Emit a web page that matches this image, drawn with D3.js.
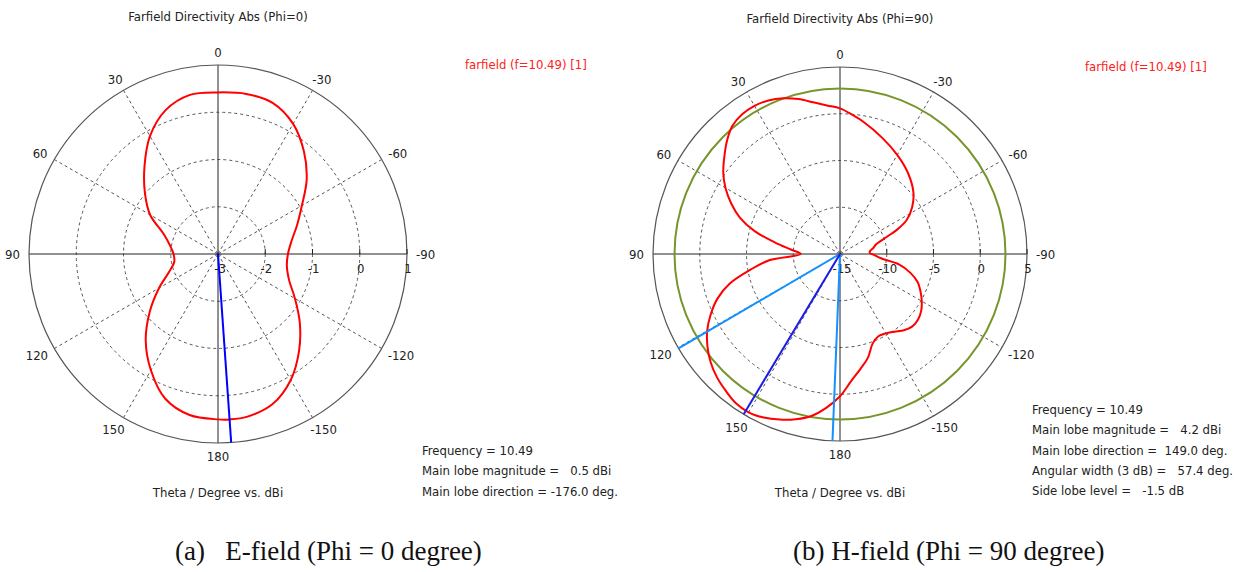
<!DOCTYPE html>
<html><head><meta charset="utf-8">
<script src="https://cdn.jsdelivr.net/npm/d3@7"></script>
<style>
html,body{margin:0;padding:0;background:#fff;}
svg text{font-family:'DejaVu Sans Condensed','DejaVu Sans',sans-serif;white-space:pre;}
svg text.cap{font-family:'Liberation Serif','Times New Roman',serif;}
</style></head>
<body><svg id="c" width="1243" height="572"></svg>
<script>
// ---------- data ----------
const angleTicks = [0, 30, 60, 90, 120, 150, 180, -150, -120, -90, -60, -30];
const angleLabels = ["0","30","60","90","120","150","180","-150","-120","-90","-60","-30"];

// Panel (a): Phi = 0
const ticksE = [-3, -2, -1, 0, 1];
const thetaE = [180,170,160,150,140,130,120,110,100,90,80,70,60,50,40,30,20,10,0,-10,-20,-30,-40,-50,-60,-70,-80,-90,-100,-110,-120,-130,-140,-150,-160,-170,-176];
const dirE   = [0.50,0.46,0.26,-0.16,-0.62,-1.12,-1.56,-1.90,-2.06,-2.06,-1.97,-1.78,-1.34,-0.98,-0.58,-0.12,0.24,0.42,0.42,0.44,0.40,0.18,-0.17,-0.55,-0.95,-1.22,-1.42,-1.52,-1.52,-1.40,-1.12,-0.74,-0.33,0.08,0.38,0.50,0.51];
const mainDirE = [-176];

// Panel (b): Phi = 90
const ticksH = [-15, -10, -5, 0, 5];
const thetaH = [180,175,170,165,160,155,150,145,140,135,130,125,120,115,110,105,100,95,90,85,80,75,70,65,60,55,50,45,40,35,30,25,20,15,10,5,0,-5,-10,-20,-30,-40,-50,-57,-63,-67,-70,-75,-80,-85,-88,-92,-96,-100,-105,-110,-115,-120,-125,-130,-135,-140,-145,-150,-155,-160,-165,-170,-175];
const dirH   = [0.22,1.5,2.6,3.3,3.85,4.3,4.55,4.45,4.05,3.62,3.05,2.3,1.4,0.25,-1.05,-2.8,-5.25,-7.4,-10.8,-9.8,-7.95,-5.55,-3.6,-2.15,-0.85,0.24,1.15,2.1,2.9,3.24,3.3,3.12,2.72,2.15,1.47,0.95,0.58,-0.05,-0.64,-1.78,-2.76,-3.69,-4.75,-5.8,-7.0,-8.4,-9.7,-11.0,-11.4,-11.8,-11.8,-11.3,-10.6,-8.6,-7.2,-6.15,-5.5,-4.9,-4.4,-4.1,-4.05,-4.35,-4.85,-5.2,-5.3,-4.8,-3.5,-2.5,-1.35];
const mainDirH = [149.0];
const beamEdgesH = [120.3, 177.7];
const sideLobeLevelH = [2.7];

const titles = ["Farfield Directivity Abs (Phi=0)", "Farfield Directivity Abs (Phi=90)"];
const legendText = "farfield (f=10.49) [1]";
const xTitle = "Theta / Degree vs. dBi";
const infoE = ["Frequency = 10.49", "Main lobe magnitude =   0.5 dBi", "Main lobe direction = -176.0 deg."];
const infoH = ["Frequency = 10.49", "Main lobe magnitude =   4.2 dBi", "Main lobe direction =  149.0 deg.", "Angular width (3 dB) =   57.4 deg.", "Side lobe level =   -1.5 dB"];
const captions = ["(a)   E-field (Phi = 0 degree)", "(b) H-field (Phi = 90 degree)"];

// ---------- drawing ----------
const svg = d3.select("#c");
svg.append("rect").attr("width",1243).attr("height",572).attr("fill","#fff");
const rad = t => -t * Math.PI / 180;
const FS = 13;

function panel(o) {
  const g = svg.append("g").attr("transform", `translate(${o.cx},${o.cy})`);
  const R = o.R;
  const r = d3.scaleLinear().domain([o.ticks[0], o.ticks[o.ticks.length-1]]).range([0, R]).clamp(true);

  // dashed rings
  g.selectAll(".ring").data(o.ticks.slice(1, -1)).join("circle")
    .attr("r", d => r(d)).attr("fill","none").attr("stroke","#555")
    .attr("stroke-width",1).attr("stroke-dasharray","3,3");
  g.append("circle").attr("r",3).attr("fill","none").attr("stroke","#777").attr("stroke-dasharray","1,1");
  // dashed spokes
  g.selectAll(".spoke").data(angleTicks.filter(a => a % 90 !== 0)).join("line")
    .attr("x1",0).attr("y1",0)
    .attr("x2", a => R*Math.sin(rad(a))).attr("y2", a => -R*Math.cos(rad(a)))
    .attr("stroke","#555").attr("stroke-width",1).attr("stroke-dasharray","3,3");
  // solid axes
  g.append("line").attr("x1",-R).attr("x2",R).attr("y1",0).attr("y2",0).attr("stroke","#222").attr("stroke-width",1);
  g.append("line").attr("y1",-R).attr("y2",R).attr("x1",0).attr("x2",0).attr("stroke","#222").attr("stroke-width",1);
  // outer circle
  g.append("circle").attr("r",R).attr("fill","none").attr("stroke","#555").attr("stroke-width",1.2);
  // radial ticks
  g.selectAll(".rt").data(o.ticks.slice(1)).join("line")
    .attr("x1", d => r(d)).attr("x2", d => r(d)).attr("y1",0).attr("y2",-5)
    .attr("stroke","#222");
  g.selectAll(".rl").data(o.ticks).join("text")
    .attr("x", (d,i) => r(d) + (i===0 ? 2 : 1)).attr("y", 19)
    .attr("text-anchor","middle").attr("font-size",FS).attr("fill","#222").text(d => d);
  // angle labels
  g.selectAll(".al").data(angleTicks).join("text")
    .attr("font-size",FS).attr("fill","#222").attr("text-anchor","middle")
    .text((d,i) => angleLabels[i])
    .each(function(a) {
      const w = this.getComputedTextLength();
      const dx = Math.sin(rad(a)), dy = -Math.cos(rad(a));
      const x = dx*(R+9) + dx*w/2, y = dy*(R+9) + dy*4;
      d3.select(this).attr("x", x).attr("y", y + 5);
    });

  // side lobe circle
  if (o.sll) g.selectAll(".sll").data(o.sll).join("circle")
    .attr("r", d => r(d)).attr("fill","none").attr("stroke","#76962c").attr("stroke-width",2);

  // pattern
  const pts = o.theta.map((t,i) => ({t, v:o.dir[i]}));
  const line = d3.lineRadial().angle(p => rad(p.t)).radius(p => r(p.v)).curve(d3.curveCatmullRomClosed.alpha(0.5));
  g.append("path").attr("d", line(pts)).attr("fill","none").attr("stroke","#ff0000").attr("stroke-width",2);

  // direction lines
  const ray = d3.lineRadial().angle(p => rad(p.t)).radius(p => r(p.v));
  if (o.edges) o.edges.forEach(t => g.append("path").attr("d", ray([{t,v:o.ticks[0]},{t,v:o.ticks[o.ticks.length-1]}]))
      .attr("stroke","#1490ff").attr("stroke-width",2).attr("fill","none"));
  o.main.forEach(t => g.append("path").attr("d", ray([{t,v:o.ticks[0]},{t,v:o.ticks[o.ticks.length-1]}]))
      .attr("stroke", o.mainColor).attr("stroke-width",2).attr("fill","none"));

  // texts
  svg.append("text").attr("x", o.cx).attr("y", o.titleY).attr("text-anchor","middle").attr("font-size",FS).attr("fill","#222").text(o.title);
  svg.append("text").attr("x", o.cx).attr("y", 497).attr("text-anchor","middle").attr("font-size",FS).attr("fill","#222").text(xTitle);
  svg.append("text").attr("x", o.legX).attr("y", o.legY).attr("font-size",FS).attr("fill","#ff2020").text(legendText);
  svg.selectAll(null).data(o.info).join("text").attr("x", o.infoX).attr("y", (d,i) => o.infoY + i*20.3)
    .attr("font-size",FS).attr("fill","#222").text(d => d);
  svg.append("text").attr("class","cap").attr("x", o.capX).attr("y", 560).attr("font-size",27).attr("fill","#111").text(o.caption);
}

panel({cx:218, cy:254, R:189, ticks:ticksE, theta:thetaE, dir:dirE, main:mainDirE, mainColor:"#0000ff",
  title:titles[0], titleY:21, legX:465, legY:69, info:infoE, infoX:422, infoY:455, capX:175, caption:captions[0]});
panel({cx:840, cy:254, R:187, ticks:ticksH, theta:thetaH, dir:dirH, main:mainDirH, mainColor:"#1c1ce8", edges:beamEdgesH, sll:sideLobeLevelH,
  title:titles[1], titleY:23, legX:1085, legY:71, info:infoH, infoX:1032, infoY:414, capX:793, caption:captions[1]});
</script></body></html>
